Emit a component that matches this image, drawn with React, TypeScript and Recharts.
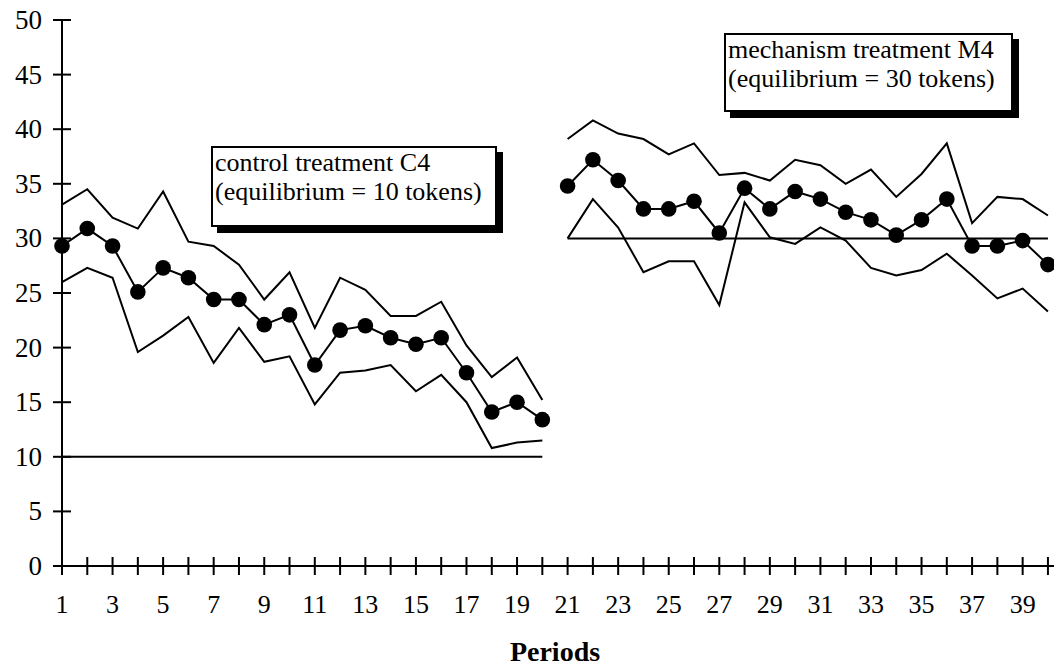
import { LineChart, Line, XAxis, YAxis, Label } from 'recharts';

// periods 1-20 control treatment, 21-40 mechanism treatment
const controlPeriods = [1, 2, 3, 4, 5, 6, 7, 8, 9, 10, 11, 12, 13, 14, 15, 16, 17, 18, 19, 20];
const mechanismPeriods = [21, 22, 23, 24, 25, 26, 27, 28, 29, 30, 31, 32, 33, 34, 35, 36, 37, 38, 39, 40];

const controlMean = [29.3, 30.9, 29.3, 25.1, 27.3, 26.4, 24.4, 24.4, 22.1, 23.0, 18.4, 21.6, 22.0, 20.9, 20.3, 20.9, 17.7, 14.1, 15.0, 13.4];
const controlUpper = [33.1, 34.5, 31.9, 30.9, 34.3, 29.7, 29.3, 27.6, 24.4, 26.9, 21.8, 26.4, 25.3, 22.9, 22.9, 24.2, 20.2, 17.3, 19.1, 15.2];
const controlLower = [26.0, 27.3, 26.4, 19.6, 21.1, 22.8, 18.6, 21.8, 18.7, 19.2, 14.8, 17.7, 17.9, 18.4, 16.0, 17.5, 15.0, 10.8, 11.3, 11.5];

const mechanismMean = [34.8, 37.2, 35.3, 32.7, 32.7, 33.4, 30.5, 34.6, 32.7, 34.3, 33.6, 32.4, 31.7, 30.3, 31.7, 33.6, 29.3, 29.3, 29.8, 27.6];
const mechanismUpper = [39.1, 40.8, 39.6, 39.1, 37.7, 38.7, 35.8, 36.0, 35.3, 37.2, 36.7, 35.0, 36.3, 33.8, 35.9, 38.7, 31.4, 33.8, 33.6, 32.1];
const mechanismLower = [30.0, 33.6, 31.0, 26.9, 27.9, 27.9, 23.9, 33.3, 30.1, 29.5, 31.0, 29.8, 27.3, 26.6, 27.1, 28.6, 26.6, 24.5, 25.4, 23.3];

const controlEquilibrium = 10;
const mechanismEquilibrium = 30;

const xTicks = [...controlPeriods, ...mechanismPeriods];
const yTicks = [0, 5, 10, 15, 20, 25, 30, 35, 40, 45, 50];

const data = xTicks.map((period) => {
    const c = controlPeriods.indexOf(period);
    const m = mechanismPeriods.indexOf(period);
    return {
        period,
        cMean: c >= 0 ? controlMean[c] : null,
        cUpper: c >= 0 ? controlUpper[c] : null,
        cLower: c >= 0 ? controlLower[c] : null,
        cEq: c >= 0 ? controlEquilibrium : null,
        mMean: m >= 0 ? mechanismMean[m] : null,
        mUpper: m >= 0 ? mechanismUpper[m] : null,
        mLower: m >= 0 ? mechanismLower[m] : null,
        mEq: m >= 0 ? mechanismEquilibrium : null,
    };
});

const FONT = 'Liberation Serif';

function XTick({ x, y, payload }: any) {
    return (
        <g>
            <line x1={x} x2={x} y1={y - 9} y2={y + 9} stroke="#000" strokeWidth={2} />
            {payload.value % 2 === 1 && (
                <text x={x} y={y + 47} textAnchor="middle" fontSize={26} fontFamily={FONT} fill="#000">
                    {payload.value}
                </text>
            )}
        </g>
    );
}

function YTick({ x, y, payload }: any) {
    return (
        <g>
            <line x1={x - 9} x2={x + 9} y1={y} y2={y} stroke="#000" strokeWidth={2} />
            <text x={x - 20} y={y + 9} textAnchor="end" fontSize={27} fontFamily={FONT} fill="#000">
                {payload.value}
            </text>
        </g>
    );
}

const boxStyle: React.CSSProperties = {
    position: 'absolute',
    boxSizing: 'border-box',
    border: '2px solid #000',
    boxShadow: '6px 6px 0 #000',
    background: '#fff',
    fontFamily: FONT,
    fontSize: 26,
    lineHeight: '29px',
    padding: '0 0 0 2px',
    whiteSpace: 'nowrap',
    color: '#000',
};

export default function App() {
    const lineProps = { type: 'linear' as const, stroke: '#000', strokeWidth: 2, isAnimationActive: false, activeDot: false };
    return (
        <div style={{ position: 'relative', width: 1054, height: 669, background: '#fff' }}>
            <style>{'body { margin: 0; }'}</style>
            <LineChart width={1054} height={669} data={data} margin={{ top: 20, right: 0, bottom: 43, left: 0 }}>
                <XAxis
                    dataKey="period"
                    type="number"
                    domain={[1, 40.24]}
                    ticks={xTicks}
                    interval={0}
                    height={60}
                    axisLine={{ stroke: '#000', strokeWidth: 2 }}
                    tickLine={false}
                    tickSize={0}
                    tickMargin={0}
                    tick={<XTick />}
                >
                    <Label value="Periods" position="bottom" offset={15} dx={-3} fontSize={28} fontWeight="bold" fontFamily={FONT} fill="#000" />
                </XAxis>
                <YAxis
                    type="number"
                    domain={[0, 50]}
                    ticks={yTicks}
                    interval={0}
                    width={62}
                    axisLine={{ stroke: '#000', strokeWidth: 2 }}
                    tickLine={false}
                    tickSize={0}
                    tickMargin={0}
                    tick={<YTick />}
                />
                <Line dataKey="cEq" {...lineProps} dot={false} />
                <Line dataKey="mEq" {...lineProps} dot={false} />
                <Line dataKey="cUpper" {...lineProps} dot={false} />
                <Line dataKey="cLower" {...lineProps} dot={false} />
                <Line dataKey="mUpper" {...lineProps} dot={false} />
                <Line dataKey="mLower" {...lineProps} dot={false} />
                <Line dataKey="cMean" {...lineProps} dot={{ r: 7.8, fill: '#000', stroke: '#000', strokeWidth: 0 }} />
                <Line dataKey="mMean" {...lineProps} dot={{ r: 7.8, fill: '#000', stroke: '#000', strokeWidth: 0 }} />
            </LineChart>
            <div style={{ ...boxStyle, left: 211, top: 146, width: 286, height: 81 }}>
                control treatment C4
                <br />
                (equilibrium = 10 tokens)
            </div>
            <div style={{ ...boxStyle, left: 724, top: 33, width: 289, height: 79 }}>
                mechanism treatment M4
                <br />
                (equilibrium = 30 tokens)
            </div>
        </div>
    );
}
